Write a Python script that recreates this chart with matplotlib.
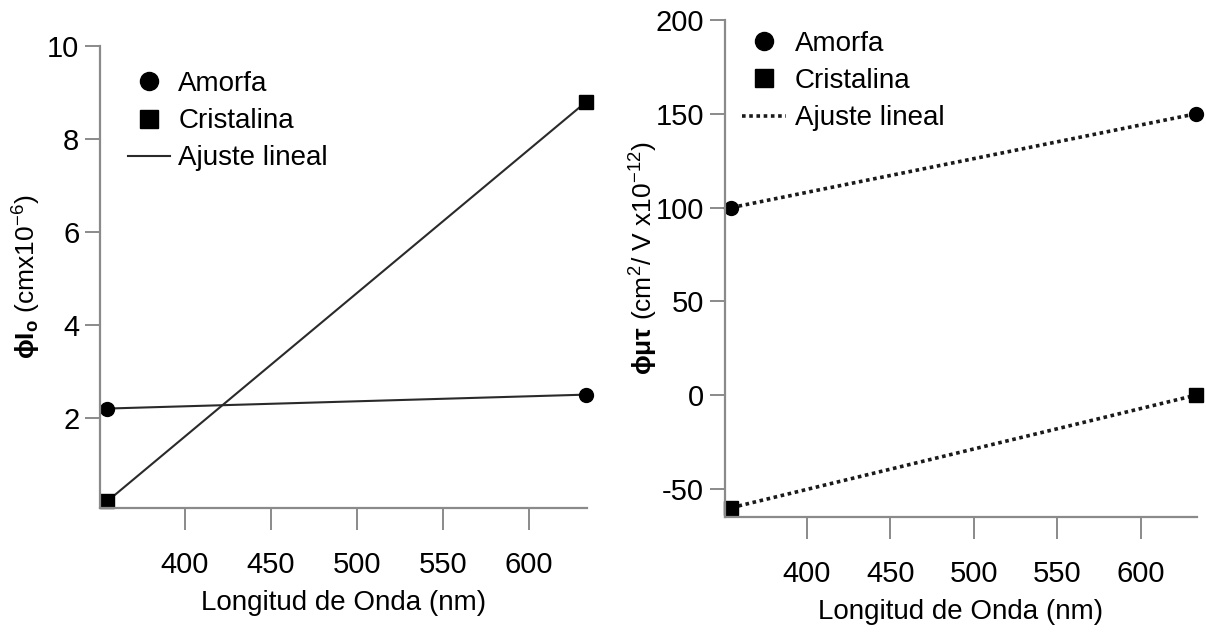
import numpy as np
import matplotlib
matplotlib.use("Agg")
import matplotlib.pyplot as plt

# longitudes de onda de los dos laseres (nm)
wavelengths = [355, 633]

# panel izquierdo: phi*I0 (cm x10^-6)
io_amorfa = [2.2, 2.5]
io_cristalina = [0.2, 8.8]

# panel derecho: phi*mu*tau (cm2/V x10^-12)
mt_amorfa = [100, 150]
mt_cristalina = [-60, 0]

left_yticks = [2, 4, 6, 8, 10]
right_yticks = [-50, 0, 50, 100, 150, 200]
xticks = [400, 450, 500, 550, 600]

plt.rcParams['font.family'] = ['Liberation Sans', 'DejaVu Sans']
plt.rcParams['mathtext.fontset'] = 'custom'
plt.rcParams['mathtext.rm'] = 'Liberation Sans'
plt.rcParams['mathtext.it'] = 'Liberation Sans'
plt.rcParams['mathtext.bf'] = 'Liberation Sans:bold'
plt.rcParams['axes.unicode_minus'] = False

FS = 21
AXCOL = '#8a8a8a'


def style_axes(ax):
    for side in ['top', 'right']:
        ax.spines[side].set_visible(False)
    for side in ['left', 'bottom']:
        ax.spines[side].set_color(AXCOL)
        ax.spines[side].set_linewidth(1.6)
    ax.tick_params(axis='x', direction='out', length=16, width=1.4, color=AXCOL,
                   labelsize=FS, pad=15)
    ax.tick_params(axis='y', direction='out', length=11, width=1.4, color=AXCOL,
                   labelsize=FS, pad=4)
    ax.set_xticks(xticks)
    ax.set_xlim(351, 633.5)
    ax.set_xlabel('Longitud de Onda (nm)', fontsize=FS - 1, labelpad=8)


def fit_line(x, y):
    p = np.polyfit(x, y, 1)
    xx = np.array([min(x), max(x)])
    return xx, np.polyval(p, xx)


def add_legend(ax, anchor, hlen):
    h, l = ax.get_legend_handles_labels()
    ax.legend([h[1], h[2], h[0]], [l[1], l[2], l[0]], loc='upper left',
              bbox_to_anchor=anchor, frameon=False, fontsize=FS - 1,
              borderaxespad=0, borderpad=0.4, handlelength=hlen,
              handletextpad=0.3, labelspacing=0.4, markerscale=1.3)


fig = plt.figure(figsize=(12.06, 6.41), dpi=100)
ax1 = fig.add_axes([0.083, 0.2075, 0.4037, 0.7205])
ax2 = fig.add_axes([0.601, 0.1934, 0.3915, 0.7754])

# --- izquierda ---
style_axes(ax1)
xx, yy = fit_line(wavelengths, io_amorfa)
ax1.plot(xx, yy, color='#2a2a2a', lw=1.5, clip_on=False)
xx, yy = fit_line(wavelengths, io_cristalina)
ax1.plot(xx, yy, color='#2a2a2a', lw=1.5, clip_on=False, label='Ajuste lineal')
ax1.plot(wavelengths, io_amorfa, 'o', color='black', ms=10, ls='none',
         clip_on=False, label='Amorfa')
ax1.plot(wavelengths, io_cristalina, 's', color='black', ms=10, ls='none',
         clip_on=False, label='Cristalina')
ax1.set_ylim(0.06, 10)
ax1.set_yticks(left_yticks)
ax1.set_ylabel(r'$\mathbf{\phi I_o}$ (cmx10$^{-6}$)', fontsize=FS - 2)
ax1.yaxis.set_label_coords(-0.118, 0.5)
add_legend(ax1, (0.035, 0.97), 1.5)

# --- derecha ---
style_axes(ax2)
xx, yy = fit_line(wavelengths, mt_amorfa)
ax2.plot(xx, yy, color='#1a1a1a', lw=2.6, ls=(0, (1, 1)), clip_on=False)
xx, yy = fit_line(wavelengths, mt_cristalina)
ax2.plot(xx, yy, color='#1a1a1a', lw=2.6, ls=(0, (1, 1)), clip_on=False,
         label='Ajuste lineal')
ax2.plot(wavelengths, mt_amorfa, 'o', color='black', ms=10, ls='none',
         clip_on=False, label='Amorfa')
ax2.plot(wavelengths, mt_cristalina, 's', color='black', ms=10, ls='none',
         clip_on=False, label='Cristalina')
ax2.set_ylim(-65, 200)
ax2.set_yticks(right_yticks)
ax2.set_ylabel(r'$\mathbf{\phi \mu \tau}$ (cm$^{2}$/ V x10$^{-12}$)', fontsize=FS - 2)
ax2.yaxis.set_label_coords(-0.138, 0.52)
add_legend(ax2, (0.013, 1.0), 1.6)

fig.savefig('out.png', dpi=100)
